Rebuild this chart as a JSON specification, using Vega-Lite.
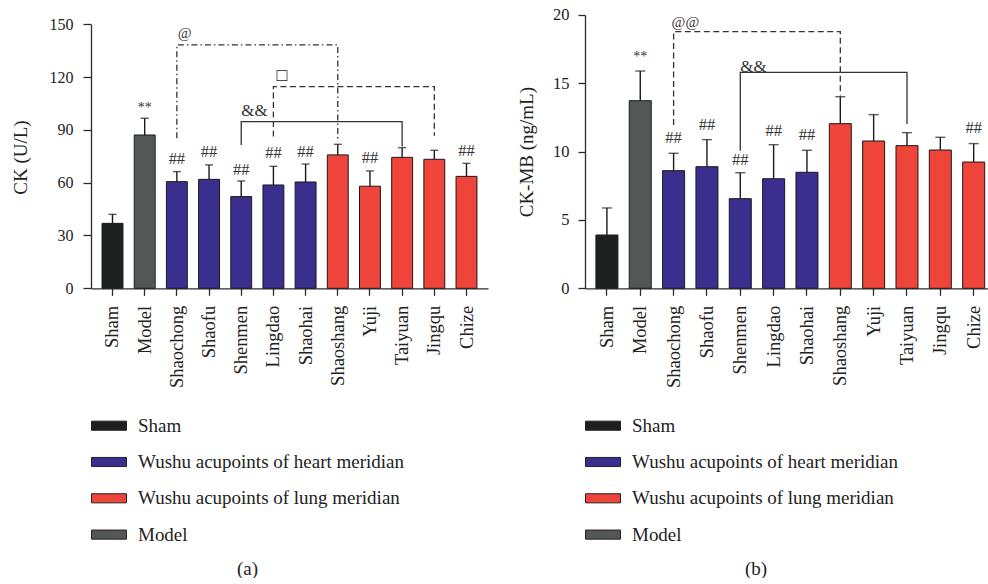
{
 "$schema": "https://vega.github.io/schema/vega-lite/v6.json",
 "padding": {"left": 11, "top": 7, "right": 0, "bottom": 0},
 "background": "white",
 "config": {
  "font": "Liberation Serif",
  "view": {"stroke": null},
  "concat": {"spacing": 29},
  "axis": {"grid": false, "domainColor": "#2b2b2b", "tickColor": "#2b2b2b", "labelColor": "#222", "titleColor": "#222", "domainWidth": 1.3, "tickWidth": 1.3, "labelFont": "Liberation Serif", "titleFont": "Liberation Serif", "titleFontWeight": "normal"},
  "legend": {"labelFont": "Liberation Serif"}
 },
 "datasets": {
  "ckA": [
   {"g": "Sham", "grp": "Sham", "v": 36.9, "e": 42.0},
   {"g": "Model", "grp": "Model", "v": 87.1, "e": 96.6},
   {"g": "Shaochong", "grp": "Wushu acupoints of heart meridian", "v": 60.6, "e": 66.3},
   {"g": "Shaofu", "grp": "Wushu acupoints of heart meridian", "v": 61.9, "e": 70.1},
   {"g": "Shenmen", "grp": "Wushu acupoints of heart meridian", "v": 52.1, "e": 61.0},
   {"g": "Lingdao", "grp": "Wushu acupoints of heart meridian", "v": 58.7, "e": 69.3},
   {"g": "Shaohai", "grp": "Wushu acupoints of heart meridian", "v": 60.4, "e": 70.6},
   {"g": "Shaoshang", "grp": "Wushu acupoints of lung meridian", "v": 75.8, "e": 81.8},
   {"g": "Yuji", "grp": "Wushu acupoints of lung meridian", "v": 58.0, "e": 66.7},
   {"g": "Taiyuan", "grp": "Wushu acupoints of lung meridian", "v": 74.4, "e": 79.9},
   {"g": "Jingqu", "grp": "Wushu acupoints of lung meridian", "v": 73.3, "e": 78.4},
   {"g": "Chize", "grp": "Wushu acupoints of lung meridian", "v": 63.6, "e": 71.0}
  ],
  "annoA": [
   {"g": "Model", "y": 102.5, "t": "**"},
   {"g": "Shaochong", "y": 73.5, "t": "##"},
   {"g": "Shaofu", "y": 77.7, "t": "##"},
   {"g": "Shenmen", "y": 67.2, "t": "##"},
   {"g": "Lingdao", "y": 76.7, "t": "##"},
   {"g": "Shaohai", "y": 77.7, "t": "##"},
   {"g": "Yuji", "y": 74.2, "t": "##"},
   {"g": "Chize", "y": 78.0, "t": "##"}
  ],
  "brA": [
   {"b": "at", "o": 1, "g": "Shaochong", "y": 85.2},
   {"b": "at", "o": 2, "g": "Shaochong", "y": 138.3},
   {"b": "at", "o": 3, "g": "Shaoshang", "y": 138.3},
   {"b": "at", "o": 4, "g": "Shaoshang", "y": 83.3},
   {"b": "sq", "o": 1, "g": "Lingdao", "y": 86.2},
   {"b": "sq", "o": 2, "g": "Lingdao", "y": 114.6},
   {"b": "sq", "o": 3, "g": "Jingqu", "y": 114.6},
   {"b": "sq", "o": 4, "g": "Jingqu", "y": 86.7},
   {"b": "amp", "o": 1, "g": "Shenmen", "y": 81.4},
   {"b": "amp", "o": 2, "g": "Shenmen", "y": 94.7},
   {"b": "amp", "o": 3, "g": "Taiyuan", "y": 94.7},
   {"b": "amp", "o": 4, "g": "Taiyuan", "y": 80.5}
  ],
  "labA": [
   {"g": "Shaochong", "y": 145.3, "t": "@"},
   {"g": "Lingdao", "y": 120.8, "t": "□"},
   {"g": "Shenmen", "y": 100.8, "t": "&&"}
  ],
  "ckB": [
   {"g": "Sham", "grp": "Sham", "v": 3.90, "e": 5.88},
   {"g": "Model", "grp": "Model", "v": 13.73, "e": 15.90},
   {"g": "Shaochong", "grp": "Wushu acupoints of heart meridian", "v": 8.61, "e": 9.88},
   {"g": "Shaofu", "grp": "Wushu acupoints of heart meridian", "v": 8.90, "e": 10.88},
   {"g": "Shenmen", "grp": "Wushu acupoints of heart meridian", "v": 6.56, "e": 8.46},
   {"g": "Lingdao", "grp": "Wushu acupoints of heart meridian", "v": 8.02, "e": 10.51},
   {"g": "Shaohai", "grp": "Wushu acupoints of heart meridian", "v": 8.49, "e": 10.10},
   {"g": "Shaoshang", "grp": "Wushu acupoints of lung meridian", "v": 12.05, "e": 14.02},
   {"g": "Yuji", "grp": "Wushu acupoints of lung meridian", "v": 10.78, "e": 12.71},
   {"g": "Taiyuan", "grp": "Wushu acupoints of lung meridian", "v": 10.44, "e": 11.39},
   {"g": "Jingqu", "grp": "Wushu acupoints of lung meridian", "v": 10.12, "e": 11.05},
   {"g": "Chize", "grp": "Wushu acupoints of lung meridian", "v": 9.24, "e": 10.59}
  ],
  "annoB": [
   {"g": "Model", "y": 16.9, "t": "**"},
   {"g": "Shaochong", "y": 11.0, "t": "##"},
   {"g": "Shaofu", "y": 11.95, "t": "##"},
   {"g": "Shenmen", "y": 9.41, "t": "##"},
   {"g": "Lingdao", "y": 11.49, "t": "##"},
   {"g": "Shaohai", "y": 11.22, "t": "##"},
   {"g": "Chize", "y": 11.73, "t": "##"}
  ],
  "brB": [
   {"b": "at", "o": 1, "g": "Shaochong", "y": 11.95},
   {"b": "at", "o": 2, "g": "Shaochong", "y": 18.78},
   {"b": "at", "o": 3, "g": "Shaoshang", "y": 18.78},
   {"b": "at", "o": 4, "g": "Shaoshang", "y": 14.1},
   {"b": "amp", "o": 1, "g": "Shenmen", "y": 10.07},
   {"b": "amp", "o": 2, "g": "Shenmen", "y": 15.8},
   {"b": "amp", "o": 3, "g": "Taiyuan", "y": 15.8},
   {"b": "amp", "o": 4, "g": "Taiyuan", "y": 12.02}
  ],
  "labB": [
   {"g": "Shaochong", "y": 19.46, "t": "@@"},
   {"g": "Shenmen", "y": 16.17, "t": "&&"}
  ]
 },
 "hconcat": [
  {
   "width": 397,
   "height": 273.3,
   "encoding": {
    "x": {"field": "g", "type": "nominal",
     "scale": {"domain": ["Sham", "Model", "Shaochong", "Shaofu", "Shenmen", "Lingdao", "Shaohai", "Shaoshang", "Yuji", "Taiyuan", "Jingqu", "Chize"], "paddingInner": 0.35, "paddingOuter": 0.343},
     "axis": {"title": "(a)", "titleX": 156, "titleY": 280, "titleAlign": "center", "titleBaseline": "middle", "titleFontSize": 19, "labelAngle": -90, "labelAlign": "right", "labelBaseline": "middle", "labelFontSize": 18.5, "labelPadding": 10, "tickSize": 7}
    }
   },
   "layer": [
    {
     "data": {"name": "ckA"},
     "mark": {"type": "bar", "stroke": "#1a1a1a", "strokeWidth": 1},
     "encoding": {
      "y": {"field": "v", "type": "quantitative", "scale": {"domain": [0, 155.28], "nice": false},
       "axis": {"title": "CK (U/L)", "titleY": 142, "values": [0, 30, 60, 90, 120, 150], "tickSize": 8, "labelPadding": 10, "labelFontSize": 16, "titleFontSize": 19, "titlePadding": 19, "domainDash": [264, 40]}},
      "color": {"field": "grp", "type": "nominal",
       "scale": {"domain": ["Sham", "Wushu acupoints of heart meridian", "Wushu acupoints of lung meridian", "Model"], "range": ["#1e1f21", "#3a2f8f", "#ee4439", "#535758"]},
       "legend": {"title": null, "orient": "none", "legendX": 0, "legendY": 392.7, "direction": "vertical", "symbolType": "M-1,-0.26L1,-0.26L1,0.26L-1,0.26Z", "symbolSize": 1225, "symbolStrokeColor": "#222", "symbolStrokeWidth": 1, "symbolOpacity": 1, "labelFontSize": 19, "labelOffset": 11, "rowPadding": 8.3, "labelColor": "#222", "labelLimit": 400}}
     }
    },
    {
     "data": {"name": "ckA"},
     "mark": {"type": "rule", "color": "#1a1a1a", "strokeWidth": 1.4},
     "encoding": {"y": {"field": "v", "type": "quantitative"}, "y2": {"field": "e"}}
    },
    {
     "data": {"name": "ckA"},
     "mark": {"type": "tick", "orient": "horizontal", "size": 8, "thickness": 1.4, "color": "#1a1a1a"},
     "encoding": {"y": {"field": "e", "type": "quantitative"}}
    },
    {
     "data": {"name": "annoA"},
     "transform": [{"filter": "datum.t == '##'"}],
     "mark": {"type": "text", "fontSize": 16.5, "color": "#333", "baseline": "middle"},
     "encoding": {"y": {"field": "y", "type": "quantitative"}, "text": {"field": "t"}}
    },
    {
     "data": {"name": "annoA"},
     "transform": [{"filter": "datum.t == '**'"}],
     "mark": {"type": "text", "fontSize": 14, "color": "#333", "baseline": "middle"},
     "encoding": {"y": {"field": "y", "type": "quantitative"}, "text": {"field": "t"}}
    },
    {
     "data": {"name": "brA"},
     "transform": [{"filter": "datum.b == 'at'"}],
     "mark": {"type": "line", "color": "#333", "strokeWidth": 1.3, "strokeDash": [6, 3, 1.5, 3]},
     "encoding": {"y": {"field": "y", "type": "quantitative"}, "order": {"field": "o"}}
    },
    {
     "data": {"name": "brA"},
     "transform": [{"filter": "datum.b == 'sq'"}],
     "mark": {"type": "line", "color": "#333", "strokeWidth": 1.3, "strokeDash": [6, 3.5]},
     "encoding": {"y": {"field": "y", "type": "quantitative"}, "order": {"field": "o"}}
    },
    {
     "data": {"name": "brA"},
     "transform": [{"filter": "datum.b == 'amp'"}],
     "mark": {"type": "line", "color": "#333", "strokeWidth": 1.3},
     "encoding": {"y": {"field": "y", "type": "quantitative"}, "order": {"field": "o"}}
    },
    {
     "data": {"name": "labA"},
     "transform": [{"filter": "datum.t == '@'"}],
     "mark": {"type": "text", "align": "left", "dx": 1, "baseline": "middle", "fontSize": 15, "color": "#333"},
     "encoding": {"y": {"field": "y", "type": "quantitative"}, "text": {"field": "t"}}
    },
    {
     "data": {"name": "labA"},
     "transform": [{"filter": "datum.t == '&&'"}],
     "mark": {"type": "text", "align": "left", "dx": 0, "baseline": "middle", "fontSize": 17, "color": "#333"},
     "encoding": {"y": {"field": "y", "type": "quantitative"}, "text": {"field": "t"}}
    },
    {
     "data": {"name": "labA"},
     "transform": [{"filter": "datum.t == '□'"}],
     "mark": {"type": "text", "align": "left", "dx": 3, "baseline": "middle", "fontSize": 18, "color": "#222"},
     "encoding": {"y": {"field": "y", "type": "quantitative"}, "text": {"field": "t"}}
    }
   ]
  },
  {
   "width": 405.3,
   "height": 273.3,
   "encoding": {
    "x": {"field": "g", "type": "nominal",
     "scale": {"domain": ["Sham", "Model", "Shaochong", "Shaofu", "Shenmen", "Lingdao", "Shaohai", "Shaoshang", "Yuji", "Taiyuan", "Jingqu", "Chize"], "paddingInner": 0.34, "paddingOuter": 0.248, "align": 0.66},
     "axis": {"title": "(b)", "titleX": 170.6, "titleY": 280, "titleAlign": "center", "titleBaseline": "middle", "titleFontSize": 19, "labelAngle": -90, "labelAlign": "right", "labelBaseline": "middle", "labelFontSize": 18.5, "labelPadding": 10, "tickSize": 7}
    }
   },
   "layer": [
    {
     "data": {"name": "ckB"},
     "mark": {"type": "bar", "stroke": "#1a1a1a", "strokeWidth": 1},
     "encoding": {
      "y": {"field": "v", "type": "quantitative", "scale": {"domain": [0, 20], "nice": false},
       "axis": {"title": "CK-MB (ng/mL)", "values": [0, 5, 10, 15, 20], "tickSize": 7, "labelPadding": 9, "labelFontSize": 16.5, "titleFontSize": 19, "titlePadding": 16}},
      "color": {"field": "grp", "type": "nominal",
       "scale": {"domain": ["Sham", "Wushu acupoints of heart meridian", "Wushu acupoints of lung meridian", "Model"], "range": ["#1e1f21", "#3a2f8f", "#ee4439", "#535758"]},
       "legend": {"title": null, "orient": "none", "legendX": 0, "legendY": 392.7, "direction": "vertical", "symbolType": "M-1,-0.26L1,-0.26L1,0.26L-1,0.26Z", "symbolSize": 1225, "symbolStrokeColor": "#222", "symbolStrokeWidth": 1, "symbolOpacity": 1, "labelFontSize": 19, "labelOffset": 11, "rowPadding": 8.3, "labelColor": "#222", "labelLimit": 400}}
     }
    },
    {
     "data": {"name": "ckB"},
     "mark": {"type": "rule", "color": "#1a1a1a", "strokeWidth": 1.4},
     "encoding": {"y": {"field": "v", "type": "quantitative"}, "y2": {"field": "e"}}
    },
    {
     "data": {"name": "ckB"},
     "mark": {"type": "tick", "orient": "horizontal", "size": 10, "thickness": 1.4, "color": "#1a1a1a"},
     "encoding": {"y": {"field": "e", "type": "quantitative"}}
    },
    {
     "data": {"name": "annoB"},
     "transform": [{"filter": "datum.t == '##'"}],
     "mark": {"type": "text", "fontSize": 16.5, "color": "#333", "baseline": "middle"},
     "encoding": {"y": {"field": "y", "type": "quantitative"}, "text": {"field": "t"}}
    },
    {
     "data": {"name": "annoB"},
     "transform": [{"filter": "datum.t == '**'"}],
     "mark": {"type": "text", "fontSize": 14, "color": "#333", "baseline": "middle"},
     "encoding": {"y": {"field": "y", "type": "quantitative"}, "text": {"field": "t"}}
    },
    {
     "data": {"name": "brB"},
     "transform": [{"filter": "datum.b == 'at'"}],
     "mark": {"type": "line", "color": "#333", "strokeWidth": 1.3, "strokeDash": [6, 3.5]},
     "encoding": {"y": {"field": "y", "type": "quantitative"}, "order": {"field": "o"}}
    },
    {
     "data": {"name": "brB"},
     "transform": [{"filter": "datum.b == 'amp'"}],
     "mark": {"type": "line", "color": "#333", "strokeWidth": 1.3},
     "encoding": {"y": {"field": "y", "type": "quantitative"}, "order": {"field": "o"}}
    },
    {
     "data": {"name": "labB"},
     "transform": [{"filter": "datum.t == '@@'"}],
     "mark": {"type": "text", "align": "left", "dx": -2, "baseline": "middle", "fontSize": 15, "color": "#333"},
     "encoding": {"y": {"field": "y", "type": "quantitative"}, "text": {"field": "t"}}
    },
    {
     "data": {"name": "labB"},
     "transform": [{"filter": "datum.t == '&&'"}],
     "mark": {"type": "text", "align": "left", "dx": 0, "baseline": "middle", "fontSize": 17, "color": "#333"},
     "encoding": {"y": {"field": "y", "type": "quantitative"}, "text": {"field": "t"}}
    }
   ]
  }
 ],
 "resolve": {"scale": {"color": "independent", "x": "independent", "y": "independent"}, "legend": {"color": "independent"}}
}
